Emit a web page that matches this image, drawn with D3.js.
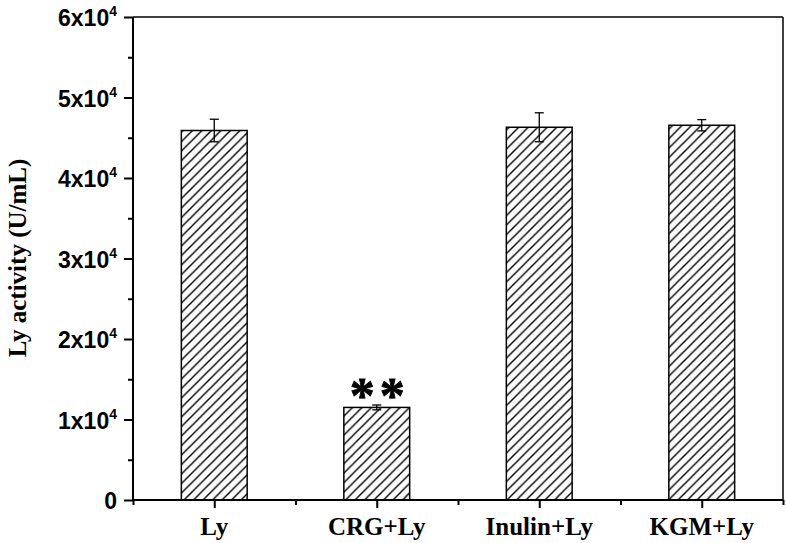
<!DOCTYPE html>
<html><head><meta charset="utf-8">
<script src="https://cdn.jsdelivr.net/npm/d3@7"></script>
<style>body{margin:0;background:#fff}</style>
</head><body>
<svg id="c" width="786" height="543"></svg>
<script>
const categories = ["Ly", "CRG+Ly", "Inulin+Ly", "KGM+Ly"];
const values = [45900, 11500, 46300, 46550];
const errors = [1400, 300, 1800, 700];
const significance = ["", "**", "", ""];
const yTicks = [0, 10000, 20000, 30000, 40000, 50000, 60000];
const yTickLabels = ["0", "1x10", "2x10", "3x10", "4x10", "5x10", "6x10"];
const yLabel = "Ly activity (U/mL)";

const svg = d3.select("#c");
const m = {l:133, r:783, t:17, b:500};
const x = d3.scaleLinear().domain([0.5, 4.5]).range([m.l, m.r]);
const y = d3.scaleLinear().domain([0, 60000]).range([m.b, m.t]);
const bw = (x(2) - x(1)) * 0.405;

const defs = svg.append("defs");
const pat = defs.append("pattern").attr("id","hatch").attr("patternUnits","userSpaceOnUse")
  .attr("width",9.5).attr("height",9.5);
pat.append("rect").attr("width",9.5).attr("height",9.5).attr("fill","#fff");
pat.append("path").attr("d","M-2,11.5 L11.5,-2 M-2,2 L2,-2 M7.5,11.5 L11.5,7.5")
  .attr("stroke","#000").attr("stroke-width",1.4);

// bars
svg.selectAll("rect.bar").data(values).enter().append("rect")
  .attr("class","bar")
  .attr("x",(d,i)=>x(i+1)-bw/2).attr("width",bw)
  .attr("y",d=>y(d)).attr("height",d=>y(0)-y(d))
  .attr("fill","url(#hatch)").attr("stroke","#000").attr("stroke-width",1.5);

// error bars
const eg = svg.append("g").attr("stroke","#000").attr("stroke-width",1.3);
values.forEach((v,i)=>{
  const cx = x(i+1), e = errors[i];
  eg.append("line").attr("x1",cx).attr("x2",cx).attr("y1",y(v+e)).attr("y2",y(v-e));
  eg.append("line").attr("x1",cx-4.5).attr("x2",cx+4.5).attr("y1",y(v+e)).attr("y2",y(v+e));
  eg.append("line").attr("x1",cx-4.5).attr("x2",cx+4.5).attr("y1",y(v-e)).attr("y2",y(v-e));
});

// significance
significance.forEach((s,i)=>{
  if(!s) return;
  svg.append("text").attr("x",x(i+1)+3).attr("y",y(values[i]+errors[i]) + 7)
    .attr("text-anchor","middle").attr("font-family","Liberation Serif, Times New Roman, serif")
    .attr("font-size",50).attr("font-weight","bold").attr("letter-spacing",5)
    .attr("stroke","#000").attr("stroke-width",0.8).text(s);
});

// frame
svg.append("line").attr("x1",m.l).attr("x2",m.r).attr("y1",m.t).attr("y2",m.t).attr("stroke","#000").attr("stroke-width",1.5);
svg.append("line").attr("x1",m.r).attr("x2",m.r).attr("y1",m.t).attr("y2",m.b).attr("stroke","#000").attr("stroke-width",1.5);

// y axis
const yAxis = d3.axisLeft(y).tickValues(yTicks).tickSize(9).tickFormat("");
const yg = svg.append("g").attr("transform",`translate(${m.l},0)`).call(yAxis);
yg.select(".domain").attr("stroke-width",2).attr("d",`M0,${m.t}V${m.b}`);
yg.selectAll(".tick line").attr("stroke-width",2);
const yMinor = d3.axisLeft(y).tickValues(yTicks.slice(0,-1).map(v=>v+5000)).tickSize(5).tickFormat("");
const ym = svg.append("g").attr("transform",`translate(${m.l},0)`).call(yMinor);
ym.select(".domain").remove();
ym.selectAll(".tick line").attr("stroke-width",2);

yTicks.forEach((v,i)=>{
  const t = svg.append("text").attr("x",117).attr("y",y(v)+9)
    .attr("text-anchor","end").attr("font-family","Liberation Sans, Arial, sans-serif")
    .attr("font-size",23).attr("font-weight","bold").attr("fill","#000");
  if(v===0){ t.text(yTickLabels[i]); }
  else {
    t.append("tspan").text(yTickLabels[i]);
    t.append("tspan").attr("font-size",14).attr("dy",-10).text("4");
  }
});

// x axis
const xAxis = d3.axisBottom(x).tickValues([1,2,3,4]).tickSize(8).tickFormat("");
const xg = svg.append("g").attr("transform",`translate(0,${m.b})`).call(xAxis);
xg.select(".domain").attr("stroke-width",2).attr("d",`M${m.l},0H${m.r}`);
xg.selectAll(".tick line").attr("stroke-width",2);
const xMinor = d3.axisBottom(x).tickValues([0.5,1.5,2.5,3.5,4.5]).tickSize(5).tickFormat("");
const xm = svg.append("g").attr("transform",`translate(0,${m.b})`).call(xMinor);
xm.select(".domain").remove();
xm.selectAll(".tick line").attr("stroke-width",2);

categories.forEach((c,i)=>{
  svg.append("text").attr("x",x(i+1)).attr("y",535).attr("text-anchor","middle")
    .attr("font-family","Liberation Serif, Times New Roman, serif")
    .attr("font-size",25).attr("font-weight","bold").text(c);
});

svg.append("text").attr("transform","translate(26,258) rotate(-90)")
  .attr("text-anchor","middle").attr("font-family","Liberation Serif, Times New Roman, serif")
  .attr("font-size",25).attr("font-weight","bold").text(yLabel);
</script>
</body></html>
